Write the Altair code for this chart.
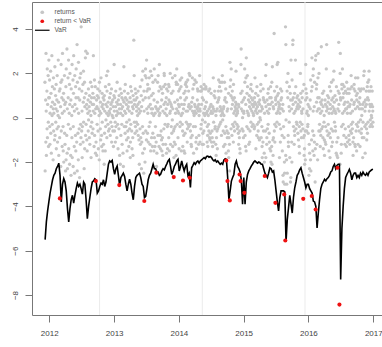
import altair as alt
import pandas as pd

# ---- daily returns (%), trading days starting 2011-12-08 ----
ret_2011 = [1.6, -2.4, 0.8, -1.1, 2.9, 0.3, -1.7, 1.2, -0.5, 2.2, -0.9, 0.6, 1.9, -0.2, -1.3, 0.9, 2.6]

ret_2012 = [
    0.9, 1.7, -0.4, -1.2, 0.2, 2.1, -0.7, 1.1, 0.5, -1.6, 2.8, 0.1, -0.3, 1.4, 0.7, -1.9, 0.4, 1.8, -0.6, 0.2, 1.3, -1.0,
    0.6, 2.3, -0.8, 1.0, -0.2, 0.4, 1.5, -1.4, 0.8, -0.5, 1.9, 0.3, -1.1, 0.1, 2.6, -0.4, 0.7, -1.7, 1.2, 0.0, -0.9,
    -1.8, 1.3, 0.5, -2.2, 1.6, 2.4, -0.6, 0.9, 1.7, -1.3, 0.2, 2.9, -0.4, -1.5, 0.8, 1.1, -2.0, 0.3, 1.9, -0.7, 0.6, -1.2,
    -2.4, 0.7, 1.4, -1.9, 2.2, -0.8, 3.1, -1.6, 0.4, -2.3, 1.8, 0.9, -0.3, 2.6, -1.4, 0.2, 1.5, -2.1, 0.6, 2.0, -0.5,
    -1.7, 0.8, -2.6, 1.3, 0.1, -0.9, 2.4, -1.8, 0.5, 1.7, -2.2, -0.4, 1.1, 2.8, -1.3, 0.3, -2.5, 1.9, 0.6, -0.8, 1.4, -1.5, 0.9,
    2.2, -1.1, 0.4, 3.3, -2.4, 1.6, -0.7, 0.9, -1.9, 2.5, 0.2, -0.5, 1.3, -2.7, 0.8, 1.8, -1.2, -0.3, 2.0, -0.9, 4.1,
    -0.6, 1.2, 0.3, -1.8, -0.4, 1.5, -1.1, 0.7, 2.1, -0.2, -2.3, 0.9, 1.6, -1.4, 0.5, 2.7, -0.8, 3.0, 1.1, -0.3, 0.6, -1.0,
    0.4, -1.5, 2.9, 0.2, 0.8, -0.6, 1.3, -0.1, 0.5, -0.9, 1.0, 0.3, -1.2, 0.7, 1.6, -0.4, 0.1, -1.8, 0.9, -0.2, 1.4, -0.7, 0.6,
    1.1, -0.5, 0.3, 2.8, 0.6, -1.3, 0.9, 1.7, -0.8, 0.2, 1.4, -1.6, 0.4, -0.9, -1.1, 0.8, -1.7, 0.5, -0.3, 1.0,
    1.3, -0.6, 0.4, -1.4, 0.9, 0.1, -1.9, 1.6, 0.3, 1.2, -0.5, 0.7, -1.0, 0.2, 1.8, -0.8, -1.3, 0.5, 1.1, -0.2, 0.6, -1.5, 0.9,
    0.4, -1.2, 0.8, -2.1, 1.0, -0.7, 0.3, -1.5, 1.4, -0.4, 0.6, -0.1, 1.9, 0.2, -0.9, 1.2, 0.5, 2.1, -0.3, 0.7, 0.1, -0.6,
    1.5, 0.3, -0.5, 0.9, 0.2, -0.8, 1.1, 0.4, -0.2, 0.6, 1.3, -1.1, 0.7, -0.4, 0.1, 0.8, -0.6, 0.0, 0.5, -1.3, 1.0,
]

ret_2013 = [
    2.4, 0.3, -0.6, 0.9, -0.2, -1.1, 0.5, 1.2, -0.4, 0.1, 0.7, -0.9, 0.3, 1.6, -0.3, 0.6, -1.4, 0.2, 0.8, -0.5, 1.0, -2.0, 0.4,
    -1.7, 1.3, -2.1, 0.6, 0.2, -0.8, 1.1, 0.4, -0.3, 0.9, -1.2, 0.5, 0.1, -1.6, 0.8, -2.2, 2.3, 0.7, -0.4, 1.2,
    0.3, -0.7, 1.5, 0.9, 0.2, -0.4, 0.6, -1.0, -0.2, 0.8, -1.5, 0.4, -0.6, 1.1, -0.9, 0.5, -1.3, 0.7, -0.1, 0.3, -0.5,
    0.9, -1.8, -1.1, 1.4, -0.3, 0.7, 1.2, -0.6, 0.2, -1.4, 0.5, -0.9, -1.7, 1.0, 0.4, 3.5, 0.8, 1.9, -0.2, 0.6, -0.7, 1.3,
    -0.4, 0.8, 1.1, -0.2, 0.5, 0.3, -0.6, 0.9, 0.1, -0.3, 0.6, 1.2, -0.8, 0.4, -1.0, 0.2, -2.1, 0.7, -0.5, 1.4, -1.2, 0.3, -0.9,
    1.0, -2.3, 0.5, -1.1, 1.7, -0.4, -1.6, 2.1, 0.8, -0.7, -2.5, 1.2, 0.3, -3.2, -1.4, -2.0, 1.9, 0.9, 2.2, -0.6,
    1.8, -1.0, 2.6, 0.4, 1.2, -0.7, 1.5, 0.2, 1.3, -1.1, 0.5, 0.9, -0.4, 1.8, 1.3, -1.2, -0.2, 0.6, 2.1, -1.5, 0.4, 1.0, -0.9,
    1.9, 0.2, -1.3, 0.4, -0.7, 1.6, 1.1, 0.1, -1.5, 0.8, 2.2, -0.9, -1.3, 0.2, 1.7, -0.4, 0.5, -1.1, 0.9, -2.2, 0.4, -1.6,
    0.7, 1.6, 0.3, -0.8, 1.9, 0.4, 1.2, -1.3, 0.1, 2.4, 0.2, 1.4, -0.8, -1.4, 0.5, -0.6, 1.3, -1.0, 0.8, -1.5, -0.9,
    1.1, -1.7, 0.3, -1.2, 1.4, -0.5, 0.6, 2.0, 1.9, 0.2, -0.3, 1.5, 0.7, -1.2, 0.4, 0.9, -1.6, 1.3, 0.1, -0.4, -1.4, 0.6, 1.2,
    -0.3, 1.5, -0.9, 0.8, 1.4, -1.5, 0.2, 0.7, 2.0, 0.3, -1.2, 0.6, -0.4, 1.1, 0.5, -0.7, -0.1, 1.8, -1.3, 0.4, 1.2,
    -0.6, -1.3, -1.8, -0.5, -1.1, 0.7, 1.9, -0.4, -1.2, 0.2, -1.7, 1.6, 1.5, 0.4, 2.2, -0.3, 0.8, 1.5, 0.3, -0.9, 0.6, 1.2,
]

ret_2014 = [
    0.2, -1.4, 0.5, 1.3, -0.4, 1.7, -0.2, 0.9, 1.4, 0.1, -1.5, 0.6, 1.8, -0.3, 0.2, -0.6, -1.3, -2.0, 0.4, -0.8, 1.1, -1.5, 0.6,
    -1.6, 0.8, -0.7, 1.2, 1.5, 0.3, 1.6, -0.2, 0.9, 1.4, -1.1, -0.5, 0.3, 1.7, -0.3, 0.5, 1.2, -0.4, 0.6, 2.0,
    -2.0, 1.9, 0.4, -0.3, -0.6, -0.9, -1.2, 0.5, -1.3, 0.7, -0.8, 1.8, 0.3, 0.9, 1.3, -0.4, -1.6, 0.2, 1.5, 0.1, 0.6,
    1.7, 0.3, 0.5, -0.4, -1.1, 0.2, 1.6, -0.9, -1.4, 0.4, 0.8, 1.3, 0.5, 1.2, 0.3, -1.2, 0.6, -0.8, 0.1, 1.9, 0.4, -1.1,
    0.3, 1.2, -0.5, 1.4, -0.3, 1.2, 0.6, -1.2, 0.9, -0.1, 1.3, -0.7, -1.2, 0.8, 0.2, -0.6, 1.5, 0.4, 0.1, 1.3, -0.2, 0.5,
    1.4, 0.2, 1.3, 0.7, 0.2, -1.1, -0.4, 0.3, -0.8, -1.3, 0.1, -0.3, 1.2, -0.6, 0.4, -0.9, 1.3, -1.0, 0.5, -0.7, 0.2,
    0.6, 1.1, 0.3, -1.1, -0.6, -0.9, 0.2, -1.3, 0.5, 1.8, 0.4, -0.2, -1.1, 1.0, 0.3, 1.2, -0.5, 0.9, -0.4, -1.2, 0.1, -1.7, 0.3,
    -0.9, -0.6, 0.4, -1.4, 0.7, -0.5, 1.2, 0.8, 1.7, -0.4, 0.9, 1.4, 0.3, -0.3, 1.6, 0.5, -0.2, 1.2, 0.1, 0.4, -0.8,
    1.6, 0.3, 1.9, 0.2, -0.1, -0.6, 0.4, -1.3, 0.5, 0.1, 1.6, 0.8, -0.7, -1.2, 0.9, 1.3, -0.4, -1.6, -1.9, 0.7, -0.6, 0.3,
    -0.9, -2.0, 0.4, -0.7, -1.5, 1.1, -1.8, -0.9, -1.2, -2.4, -3.0, 2.5, 1.4, 1.7, 1.0, -0.5, 2.2, 0.4, -0.8, 0.9, 1.2, 0.6, -0.3,
    0.8, -1.1, 1.5, -0.4, 0.2, 0.9, -0.6, 0.3, -0.2, 0.5, 0.7, 0.4, 2.1, 0.1, 0.6, -0.3, 0.4, -0.5, 0.2, 0.3,
    -0.4, -0.7, 0.6, -1.2, 0.5, -0.9, -2.1, -0.6, -1.4, -1.6, -2.3, 1.1, 2.4, 3.1, 0.4, 0.7, -0.5, 1.2, 0.3, 0.0, -0.6, 0.8, -0.9,
]

ret_2015 = [
    0.3, 0.2, -2.9, 0.9, 2.2, 1.6, -0.8, -1.3, 0.6, 1.8, -1.5, 2.7, -0.4, 1.1, 0.3, 1.9, 1.4, 0.2, -0.5, 0.8, 0.1, -1.2,
    1.0, 0.5, -1.1, 0.7, -0.6, 1.3, 0.4, -0.2, 1.5, 0.9, 0.3, -0.4, 0.6, 1.2, 0.8, -0.3, 0.2, 0.5, 0.1, 0.6,
    -0.5, 0.9, -0.4, 0.7, 1.8, 0.3, 1.1, -1.4, 0.6, 0.4, -0.8, 1.4, 0.2, -0.3, 0.5, 1.0, -0.6, -0.9, 0.7, -0.2, 0.3, -1.0,
    0.6, 0.8, 0.0, -0.1, 1.2, 1.5, 0.3, -0.9, 0.5, -0.4, -1.3, -1.8, 0.4, -1.1, 1.3, 0.9, -0.6, 0.8, -1.6, -2.0, 0.2, -1.9,
    0.7, -0.6, 1.9, -1.8, 0.5, 2.4, -1.2, -0.9, 0.8, 0.3, -0.5, 1.1, -0.3, 0.6, 1.3, 0.2, -0.7, -1.1, 0.4, 0.9, -1.4,
    0.6, 1.4, -1.5, -2.0, 0.9, -1.3, 1.6, -2.1, 0.7, 2.3, -1.0, -1.7, 0.5, -0.9, 0.4, 3.8, -0.6, 1.2, -0.3, -1.1, -3.0, 0.8,
    0.9, 0.6, -0.4, 0.2, 1.4, -0.2, 2.4, 1.0, 2.5, 0.3, 0.7, 1.1, 0.4, 0.5, -0.3, -1.8, 0.6, 0.2, -1.1, 1.3, -0.5, 0.8, 0.4,
    0.9, 1.2, 0.4, -0.8, -1.5, 0.6, -2.6, -2.9, 0.3, -0.4, -0.9, -1.6, -2.0, -2.5, -3.0, -5.0, 4.1, -1.7, 3.3, -0.1, -1.9,
    -3.0, 1.6, 1.2, -2.5, 0.9, 2.0, -0.8, -1.1, -1.3, 0.5, -0.2, 1.4, 0.3, -1.8, 1.1, -2.9, 0.8, -2.7, 2.6, 0.4, -1.1, -2.0,
    1.7, 0.8, 3.3, 3.5, 0.6, 0.9, -0.4, 0.2, -1.2, -0.6, 1.1, -0.8, 0.3, 2.6, 0.7, 1.4, -0.5, -0.2, 0.4, 0.9, -0.3, 0.5,
    1.0, -0.7, 0.6, 0.4, -1.0, 0.8, -1.3, -0.4, -1.6, 0.5, -0.2, 2.0, 0.7, 1.1, -0.6, -0.9, 0.3, 0.2, -0.3, 0.9, 1.2,
    -0.5, 0.4, -2.8, -0.9, 1.5, -1.7, -0.8, -1.4, -2.1, -0.6, -1.9, 0.8, 2.4, 1.3, 1.1, -0.6, 0.2, 0.9, 0.3, -0.4, -0.3, 0.6, -0.7,
]

ret_2016 = [
    0.1, -2.6, 0.5, -1.2, -2.3, -1.6, 0.8, 0.4, -1.9, 1.7, -2.4, 1.2, -1.0, -2.8, 2.7, 1.4, -0.6, -1.5, 1.9, 0.3, 2.2,
    -0.8, -1.7, 0.5, -1.1, 1.6, -2.9, -1.4, 2.6, -2.5, 2.8, 1.3, 0.7, 1.5, -1.2, 0.3, -1.9, 0.9, 1.8, 2.9, 0.4, -0.6,
    2.0, 0.9, 0.4, -0.3, -0.6, -1.3, 0.2, 0.7, -0.8, 3.2, 0.6, -0.5, 0.3, 0.8, 1.1, -0.4, -0.9, 0.5, -1.4, 1.2, -0.2, 0.1, -1.0,
    -1.7, 0.8, -1.1, 0.6, -0.4, -1.2, 2.2, 0.3, 3.3, 0.5, -0.6, 1.0, 0.4, -0.8, 0.7, -0.3, 0.9, -1.5, 0.2, -0.7, 1.4,
    -1.8, 0.6, -0.9, 0.4, 1.2, -0.5, 1.6, -1.3, 0.8, 0.2, -1.1, 0.5, -0.6, 0.9, 1.7, 0.3, 2.1, 0.4, 0.7, -0.2, 1.0, 0.3,
    -0.4, -0.6, 0.2, -1.6, 1.4, 0.8, -1.1, -1.7, -2.0, -1.8, 0.4, -0.9, 1.2, 3.4, 0.6, 0.3, 1.1, -5.0, -2.1, 2.0, 2.9, 0.9,
    0.8, -1.6, -1.2, -0.4, 1.5, 1.3, 2.2, 0.2, 1.5, 0.9, -0.3, 1.1, -0.8, 0.6, 1.4, 0.3, -1.2, 0.7, -0.5, 1.2, 0.4,
    -0.9, -1.3, 0.4, 1.6, 1.1, 0.2, -1.1, 0.7, 1.3, 0.5, -0.4, -0.8, 1.1, -1.0, 0.5, -1.2, 0.6, 1.3, -0.6, 0.2, 1.9, -0.3, -0.7,
    0.8, 1.4, -0.5, 0.3, -0.2, -1.1, -1.7, -0.9, 0.6, 1.3, 1.5, 0.7, -1.2, 1.2, -1.3, 0.4, 1.8, -0.6, 1.0, -0.3, -1.5, 0.8,
    1.1, 0.5, -0.4, 1.8, -1.2, -0.2, 0.7, 1.3, -0.6, 0.4, 0.9, -1.3, 0.6, 1.2, -0.1, 0.4, -0.7, 1.3, -0.5, 0.1, -0.9,
    0.4, -1.8, 0.6, -0.2, 1.3, 1.9, -0.9, 0.7, 2.1, -0.4, 0.3, -1.6, 0.5, 0.8, -0.3, 1.2, 0.6, -0.5, -1.0, 1.4, -0.7, 0.9,
    1.6, -0.2, 0.8, 1.2, 1.7, 2.1, 0.3, 0.6, -0.4, 1.2, -0.1, 0.5, 1.4, -0.3, 0.1, 0.6, 0.0, 1.2, -0.4, 0.5, 0.3, -0.2,
]

# ---- weekly VaR estimate (%), Fridays starting 2011-12-09 ----
var_2011 = [-5.5, -4.7, -4.2, -3.8]
var_2012 = [-3.4, -3.1, -2.8, -2.6, -2.5, -2.3, -2.2, -2.05, -2.6, -3.8, -3.0, -2.75, -2.9,
            -3.3, -4.1, -4.7, -4.1, -3.7, -3.5, -3.85, -3.5, -3.2, -2.95, -3.1, -3.0, -3.2,
            -3.45, -2.9, -3.0, -3.7, -4.55, -4.0, -3.6, -3.2, -2.9, -2.85, -2.75, -2.8, -3.4,
            -3.3, -3.1, -2.95, -3.0, -2.8, -3.1, -2.9, -2.5, -2.1, -1.95, -2.0, -1.93, -2.3]
var_2013 = [-2.55, -2.3, -2.18, -2.6, -3.05, -2.7, -2.6, -2.5, -2.65, -3.0, -3.3, -3.0, -2.77,
            -3.0, -3.4, -3.7, -3.1, -2.7, -2.6, -2.55, -2.5, -2.7, -3.0, -3.1, -3.6, -3.55,
            -3.2, -2.8, -2.6, -2.5, -2.3, -2.1, -2.3, -2.3, -2.45, -2.45, -2.6, -2.55, -2.4,
            -2.3, -2.35, -2.2, -2.08, -1.95, -1.88, -2.2, -2.56, -2.4, -2.2, -2.1, -1.95, -1.88]
var_2014 = [-2.4, -2.2, -1.95, -2.2, -2.4, -2.2, -2.1, -2.6, -2.5, -3.15, -2.26, -2.15, -2.03,
            -2.1, -2.0, -1.95, -2.05, -1.95, -1.9, -1.85, -1.8, -1.85, -1.75, -1.73, -1.78, -1.75,
            -1.8, -1.9, -1.95, -1.9, -2.0, -1.95, -2.03, -2.1, -2.05, -2.1, -1.9, -1.85, -1.88,
            -2.7, -3.7, -3.3, -2.86, -2.7, -2.56, -2.1, -1.95, -2.2, -2.3, -2.45, -2.8, -3.9]
var_2015 = [-2.7, -3.9, -2.9, -2.56, -2.4, -2.3, -2.18, -2.1, -2.0, -1.95, -2.0, -2.05, -2.0,
            -2.03, -2.1, -2.1, -2.3, -2.5, -2.6, -2.7, -2.5, -2.26, -2.3, -2.45, -2.4, -2.8,
            -3.3, -3.8, -4.2, -3.6, -3.3, -3.3, -3.3, -3.35, -5.6, -4.6, -4.06, -3.5, -3.9,
            -4.3, -3.6, -3.16, -2.9, -2.6, -2.5, -2.35, -2.26, -2.5, -2.7, -2.9, -3.16, -3.0]
var_2016 = [-3.0, -3.2, -3.3, -3.4, -3.76, -3.8, -4.0, -4.97, -4.3, -3.7, -3.2, -3.0, -2.9,
            -2.78, -2.85, -2.75, -2.7, -2.6, -2.45, -2.4, -2.2, -2.1, -2.3, -2.15, -2.1, -2.1,
            -7.3, -5.0, -4.0, -3.2, -2.7, -2.56, -2.45, -2.33, -2.5, -2.8, -2.6, -2.5, -2.5,
            -2.7, -2.6, -2.7, -2.5, -2.6, -2.45, -2.55, -2.6, -2.5, -2.6, -2.45, -2.4, -2.35, -2.33]

# ---- days on which the return fell below the VaR ----
breach_dates = ["2012-03-01", "2012-09-20", "2013-01-30", "2013-06-20", "2013-08-27",
                "2013-12-03", "2014-01-24", "2014-03-03", "2014-09-25", "2014-10-02",
                "2014-10-15", "2014-12-09", "2014-12-15", "2015-01-05", "2015-04-30",
                "2015-06-29", "2015-08-18", "2015-08-24", "2015-12-03", "2016-01-20",
                "2016-02-11", "2016-06-13", "2016-06-24"]
breach_values = [-3.64, -2.86, -3.04, -3.76, -2.48,
                 -2.68, -2.83, -2.71, -1.93, -2.86,
                 -3.73, -2.56, -2.86, -3.39, -2.63,
                 -3.84, -3.46, -5.54, -3.66, -3.53,
                 -4.14, -2.26, -8.43]

series_names = ["returns", "return < VaR", "VaR"]
grid_dates = ["2012-10-11", "2014-05-13", "2015-12-13"]
year_ticks = [2012, 2013, 2014, 2015, 2016, 2017]
y_ticks = [-8, -6, -4, -2, 0, 2, 4]

# ---- assemble tables ----
returns = ret_2011 + ret_2012 + ret_2013 + ret_2014 + ret_2015 + ret_2016
pts = pd.DataFrame({
    "date": pd.bdate_range("2011-12-08", periods=len(returns)),
    "value": returns,
    "series": "returns",
})
hits = dict(zip(pd.to_datetime(breach_dates), breach_values))
mask = pts["date"].isin(list(hits.keys()))
pts.loc[mask, "value"] = pts.loc[mask, "date"].map(hits)
pts.loc[mask, "series"] = "return < VaR"

var_values = var_2011 + var_2012 + var_2013 + var_2014 + var_2015 + var_2016
var_df = pd.DataFrame({
    "date": pd.date_range("2011-12-09", periods=len(var_values), freq="7D"),
    "value": var_values,
})
grid_df = pd.DataFrame({"date": pd.to_datetime(grid_dates)})

# ---- scales and axes ----
FONT = "Liberation Sans, Arial, Helvetica, sans-serif"
x_scale = alt.Scale(domain=[alt.DateTime(year=2011, month=9, date=26),
                            alt.DateTime(year=2017, month=2, date=19)])
y_scale = alt.Scale(domain=[-8.9, 5.22], nice=False, zero=False)

# legend glyphs: dots for the two point series, a wide flat bar for the VaR line
color_scale = alt.Scale(domain=series_names, range=["#c6c6c6", "#ee1111", "#000000"])
shape_scale = alt.Scale(domain=series_names,
                        range=["circle", "circle", "M-3.9,-0.32L3.9,-0.32L3.9,0.32L-3.9,0.32Z"])

x_bottom = alt.Axis(values=[alt.DateTime(year=y, month=1, date=1) for y in year_ticks],
                    format="%Y", title=None, grid=False, orient="bottom",
                    domainColor="#777", tickColor="#777", tickSize=7,
                    labelFont=FONT, labelFontSize=8, labelColor="#444", labelPadding=7)
x_top = alt.Axis(orient="top", title=None, grid=False, labels=False, ticks=False,
                 domainColor="#777")
y_left = alt.Axis(values=y_ticks, title=None, grid=False,
                  domainColor="#777", tickColor="#777", tickSize=7,
                  labelAngle=-90, labelAlign="center", labelBaseline="bottom",
                  labelFont=FONT, labelFontSize=8, labelColor="#444", labelPadding=6)

legend = alt.Legend(title=None, orient="none", legendX=7, legendY=7,
                    labelFont=FONT, labelFontSize=6.5, labelColor="#555",
                    padding=0, rowPadding=2, labelOffset=9, symbolOpacity=1,
                    symbolStrokeWidth=0, symbolSize=14)

enc_color = alt.Color("series:N", scale=color_scale, legend=legend)
enc_shape = alt.Shape("series:N", scale=shape_scale, legend=legend)

grid_rules = alt.Chart(grid_df).mark_rule(color="#ebebeb", strokeWidth=1).encode(
    x=alt.X("date:T", scale=x_scale, axis=None),
)

gray_pts = alt.Chart(pts).transform_filter(
    alt.datum.series == "returns"
).mark_point(filled=True, opacity=1, strokeWidth=0, size=11).encode(
    x=alt.X("date:T", scale=x_scale, axis=x_bottom),
    y=alt.Y("value:Q", scale=y_scale, axis=y_left),
    color=enc_color, shape=enc_shape,
)

var_line = alt.Chart(var_df).mark_line(color="black", strokeWidth=1.6).encode(
    x=alt.X("date:T", scale=x_scale, axis=x_top),
    y=alt.Y("value:Q", scale=y_scale, axis=y_left),
)

red_pts = alt.Chart(pts).transform_filter(
    alt.datum.series == "return < VaR"
).mark_point(filled=True, opacity=1, strokeWidth=0, size=17).encode(
    x=alt.X("date:T", scale=x_scale, axis=None),
    y=alt.Y("value:Q", scale=y_scale, axis=y_left),
    color=enc_color, shape=enc_shape,
)

chart = alt.layer(grid_rules, gray_pts, var_line, red_pts).resolve_axis(
    x="independent"
).properties(
    width=350, height=313,
    padding={"left": 32, "top": 2, "right": 0, "bottom": 32},
    autosize=alt.AutoSizeParams(type="none"),
    background="white",
).configure_view(stroke=None)

chart.save("out.html", embed_options={"renderer": "svg", "actions": False})
